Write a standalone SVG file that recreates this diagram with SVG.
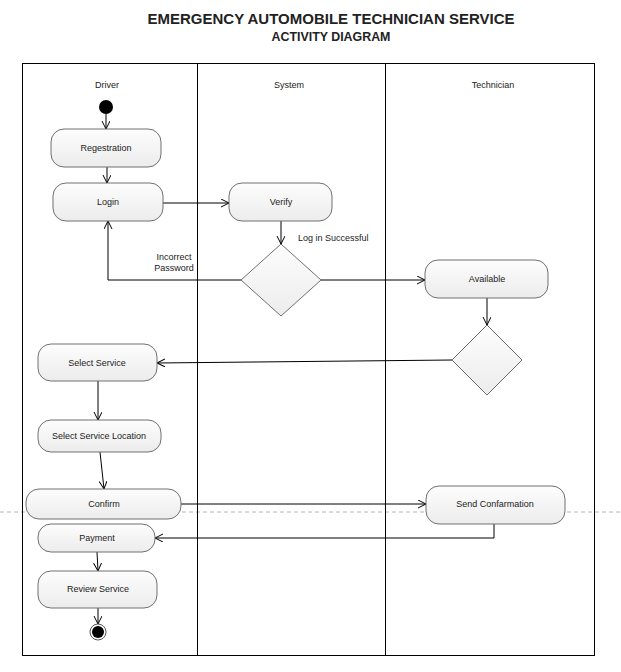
<svg xmlns="http://www.w3.org/2000/svg" width="621" height="672" viewBox="0 0 621 672">
<style>
.t{font-family:"Liberation Sans",Arial,sans-serif;font-size:9px;fill:#222;text-anchor:middle}
.h{font-family:"Liberation Sans",Arial,sans-serif;font-weight:bold;fill:#222;text-anchor:middle}
.node{fill:url(#g);stroke:#707070;stroke-width:1}
.c{fill:none;stroke:#000;stroke-width:1;marker-end:url(#a)}
.lane{fill:none;stroke:#000;stroke-width:1}
</style>
<defs>
<linearGradient id="g" x1="0" y1="0" x2="0" y2="1">
<stop offset="0" stop-color="#fdfdfd"/>
<stop offset="1" stop-color="#ececec"/>
</linearGradient>
<marker id="a" markerWidth="10" markerHeight="10" refX="8" refY="4" orient="auto" markerUnits="userSpaceOnUse">
<path d="M0,0 L8,4 L0,8" fill="none" stroke="#000" stroke-width="1"/>
</marker>
</defs>
<rect width="621" height="672" fill="#fff"/>
<text class="h" x="331" y="23.5" font-size="15">EMERGENCY AUTOMOBILE TECHNICIAN SERVICE</text>
<text class="h" x="331" y="41" font-size="12.4">ACTIVITY DIAGRAM</text>
<line x1="0" y1="512" x2="621" y2="512" stroke="#b4b4b4" stroke-width="1" stroke-dasharray="4,3"/>
<g id="lanes">
<rect class="lane" x="22.5" y="63.5" width="572" height="592"/>
<line class="lane" x1="197.5" y1="63.5" x2="197.5" y2="655.5"/>
<line class="lane" x1="385.5" y1="63.5" x2="385.5" y2="655.5"/>
<text class="t" x="107" y="88">Driver</text>
<text class="t" x="289" y="88">System</text>
<text class="t" x="493" y="88">Technician</text>
</g>
<g id="connectors">
<path class="c" d="M106,114 V129"/>
<path class="c" d="M107,167 V183"/>
<path class="c" d="M163,203 H229"/>
<path class="c" d="M281,221 V244"/>
<path class="c" d="M241,280 H108 V221"/>
<path class="c" d="M321,280 H425"/>
<path class="c" d="M487,298 V325"/>
<path class="c" d="M452,360 L157,363"/>
<path class="c" d="M98,381 V420"/>
<path class="c" d="M100,452 L104,489"/>
<path class="c" d="M181,504 H426"/>
<path class="c" d="M494,524 V538 H155"/>
<path class="c" d="M97,552 L98,571"/>
<path class="c" d="M98,608 V624"/>
<text class="t" x="298" y="241" style="text-anchor:start">Log in Successful</text>
<text class="t" x="174" y="260">Incorrect</text>
<text class="t" x="174" y="271">Password</text>
</g>
<g id="start"><circle cx="106" cy="107" r="7" fill="#000"/></g>
<g id="regestration"><rect class="node" x="51" y="129" width="110" height="38" rx="13"/><text class="t" x="106" y="151">Regestration</text></g>
<g id="login"><rect class="node" x="53" y="183" width="110" height="38" rx="13"/><text class="t" x="108" y="205">Login</text></g>
<g id="verify"><rect class="node" x="229" y="183" width="103" height="38" rx="13"/><text class="t" x="281" y="205">Verify</text></g>
<g id="decision1"><polygon class="node" points="281,244 321,280 281,316 241,280"/></g>
<g id="available"><rect class="node" x="425" y="260" width="123" height="38" rx="13"/><text class="t" x="487" y="282">Available</text></g>
<g id="decision2"><polygon class="node" points="487,325 522,360 487,395 452,360"/></g>
<g id="select-service"><rect class="node" x="38" y="344" width="119" height="37" rx="13"/><text class="t" x="97" y="366">Select Service</text></g>
<g id="select-location"><rect class="node" x="38" y="420" width="123" height="32" rx="13"/><text class="t" x="99" y="439">Select Service Location</text></g>
<g id="confirm"><rect class="node" x="26" y="489" width="155" height="30" rx="13"/><text class="t" x="104" y="507">Confirm</text></g>
<g id="send-confarmation"><rect class="node" x="426" y="486" width="139" height="38" rx="13"/><text class="t" x="495" y="507">Send Confarmation</text></g>
<g id="payment"><rect class="node" x="38" y="524" width="117" height="28" rx="13"/><text class="t" x="97" y="541">Payment</text></g>
<g id="review-service"><rect class="node" x="38" y="571" width="119" height="37" rx="13"/><text class="t" x="98" y="592">Review Service</text></g>
<g id="end"><circle cx="98" cy="632" r="8" fill="#fff" stroke="#555" stroke-width="1"/><circle cx="98" cy="632" r="6" fill="#000"/></g>
</svg>
